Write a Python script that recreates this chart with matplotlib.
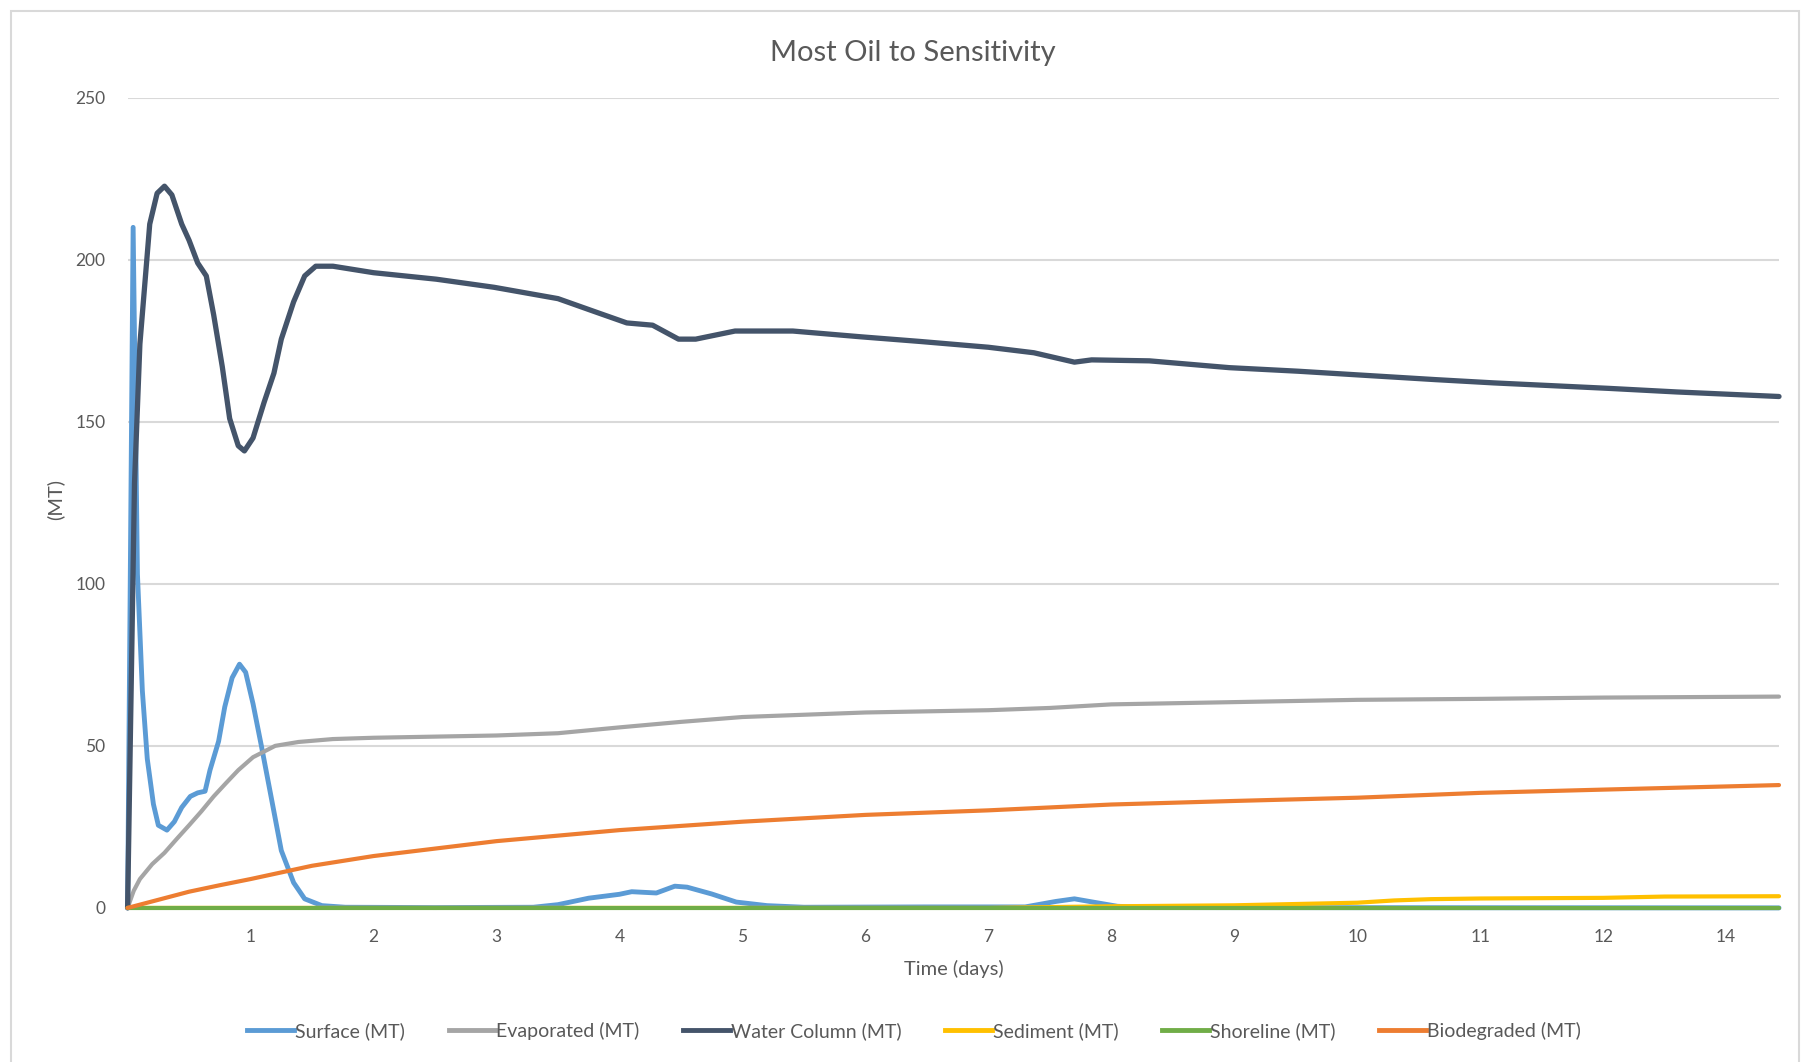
import matplotlib
matplotlib.use("Agg")
import matplotlib.pyplot as plt
from matplotlib.lines import Line2D
from matplotlib.patches import Rectangle

plt.rcParams['font.family'] = ['Lato', 'DejaVu Sans']

# ---- data (time in days, mass in MT) ----
surface_t = [0, 0.045, 0.08, 0.12, 0.16, 0.21, 0.25, 0.32, 0.38, 0.44, 0.51, 0.57, 0.63,
             0.67, 0.74, 0.79, 0.85, 0.91, 0.96, 1.02, 1.09, 1.17, 1.25, 1.35, 1.44, 1.58,
             1.77, 2.5, 3.3, 3.5, 3.75, 4.0, 4.1, 4.3, 4.45, 4.55, 4.75, 4.95, 5.2, 5.5,
             6.5, 7.3, 7.55, 7.7, 7.85, 8.05, 8.3, 13.43]
surface_v = [0, 210, 103, 67, 46, 32, 25.5, 24, 26.6, 31, 34.4, 35.5, 36,
             42.5, 51.4, 62, 71, 75.2, 72.7, 63, 49.6, 33.7, 17.7, 7.8, 2.8, 0.7,
             0.2, 0.1, 0.2, 1.0, 3.0, 4.2, 5.0, 4.6, 6.7, 6.4, 4.3, 1.8, 0.7, 0.2,
             0.3, 0.3, 2.0, 2.8, 1.8, 0.5, 0.1, 0.0]

evap_t = [0, 0.05, 0.1, 0.2, 0.3, 0.4, 0.5, 0.6, 0.7, 0.8, 0.9, 1.02, 1.2, 1.39, 1.67,
          2.0, 3.0, 3.5, 4.0, 4.5, 5.0, 6.0, 7.0, 7.5, 8.0, 9.0, 10.0, 11.0, 12.0, 13.43]
evap_v = [0, 5.3, 8.9, 13.5, 17, 21.3, 25.5, 29.8, 34.4, 38.5, 42.5, 46.5, 50.0, 51.2, 52.1,
          52.5, 53.2, 53.9, 55.7, 57.4, 58.9, 60.3, 61.0, 61.7, 62.8, 63.5, 64.2, 64.5, 64.9, 65.2]

water_t = [0, 0.056, 0.10, 0.18, 0.24, 0.30, 0.36, 0.44, 0.50, 0.57, 0.64, 0.70, 0.77, 0.83,
           0.90, 0.95, 1.02, 1.11, 1.19, 1.25, 1.35, 1.44, 1.53, 1.67, 2.0, 2.51, 2.98,
           3.50, 3.82, 4.06, 4.27, 4.48, 4.62, 4.94, 5.41, 5.97, 6.44, 7.0, 7.37, 7.70,
           7.84, 8.31, 8.96, 9.52, 9.99, 10.64, 11.11, 12.05, 12.6, 13.43]
water_v = [0, 131, 174, 211, 220.5, 222.7, 220, 211, 206, 199, 195, 183, 167, 151,
           142.6, 141, 145, 156, 165, 175.5, 187, 195, 198, 198, 196, 194, 191.5,
           188, 183.7, 180.5, 179.8, 175.5, 175.5, 178, 178, 176.2, 174.8, 173, 171.3, 168.4,
           169.1, 168.8, 166.7, 165.6, 164.5, 163, 162, 160.3, 159.2, 157.8]

sediment_t = [0, 7.0, 8.0, 9.0, 9.5, 10.0, 10.3, 10.6, 11.0, 12.0, 12.5, 13.43]
sediment_v = [0, 0.0, 0.5, 0.8, 1.2, 1.6, 2.3, 2.7, 2.9, 3.1, 3.5, 3.6]

shore_t = [0, 13.43]
shore_v = [0, 0]

bio_t = [0, 0.25, 0.5, 0.75, 1.0, 1.5, 2.0, 3.0, 4.0, 5.0, 6.0, 7.0, 8.0, 9.0, 10.0,
         11.0, 12.0, 13.43]
bio_v = [0, 2.5, 5.0, 7.0, 8.9, 13.0, 16.0, 20.6, 24.0, 26.6, 28.7, 30.1, 31.9, 33.0, 34.0,
         35.5, 36.5, 37.9]

series_names = ["Surface (MT)", "Evaporated (MT)", "Water Column (MT)",
                "Sediment (MT)", "Shoreline (MT)", "Biodegraded (MT)"]
series_colors = ["#5B9BD5", "#A5A5A5", "#44546A", "#FFC000", "#70AD47", "#ED7D31"]

x_tick_pos = [1, 2, 3, 4, 5, 6, 7, 8, 9, 10, 11, 12, 13]
x_tick_labels = ["1", "2", "3", "4", "5", "6", "7", "8", "9", "10", "11", "12", "14"]
y_ticks = [0, 50, 100, 150, 200, 250]

# ---- figure ----
W, H = 1802, 1062
fig = plt.figure(figsize=(W / 100, H / 100), dpi=100)
fig.patch.set_facecolor("white")

# thin chart-area frame
fig.patches.append(Rectangle((11 / W, -0.02), (1788) / W, 1.0 - 11 / H + 0.02,
                             transform=fig.transFigure, fill=False,
                             edgecolor="#D9D9D9", linewidth=1.5))

ax = fig.add_axes([127.6 / W, 1 - 907.9 / H, (1779 - 127.6) / W, (907.9 - 97.7) / H])

data = [(surface_t, surface_v), (evap_t, evap_v), (water_t, water_v),
        (sediment_t, sediment_v), (shore_t, shore_v), (bio_t, bio_v)]
widths = [3.5, 3.0, 3.8, 3.0, 3.0, 3.0]
for (t, v), name, col, lw in zip(data, series_names, series_colors, widths):
    ax.plot(t, v, color=col, lw=lw, label=name, solid_joinstyle="round",
            solid_capstyle="round", zorder=3, clip_on=False)

ax.set_xlim(0, 13.43)
ax.set_ylim(0, 250)
ax.set_yticks(y_ticks)
ax.set_xticks(x_tick_pos)
ax.set_xticklabels(x_tick_labels)
ax.grid(axis="y", color="#D9D9D9", lw=1.5, zorder=0)
for s in ax.spines.values():
    s.set_visible(False)
ax.tick_params(axis="both", length=0, colors="#595959", labelsize=12.5)
ax.tick_params(axis="y", pad=16)
ax.tick_params(axis="x", pad=15)

fig.text(913 / W, 1 - 52.5 / H, "Most Oil to Sensitivity", ha="center", va="center",
         fontsize=21, color="#595959")
fig.text(954 / W, 1 - 969 / H, "Time (days)", ha="center", va="center",
         fontsize=14.5, color="#595959")
fig.text(55 / W, 1 - 500 / H, "(MT)", ha="center", va="center", rotation=90,
         fontsize=14.5, color="#595959")

handles = [Line2D([0], [0], color=c, lw=3.5) for c in series_colors]
leg = fig.legend(handles, series_names, loc="center", ncol=6,
                 bbox_to_anchor=(914 / W, 1 - 1031 / H), frameon=False,
                 fontsize=14, handlelength=2.4, handletextpad=0.05,
                 columnspacing=2.25)
for txt in leg.get_texts():
    txt.set_color("#595959")

fig.savefig("out.png", dpi=100, facecolor="white")
